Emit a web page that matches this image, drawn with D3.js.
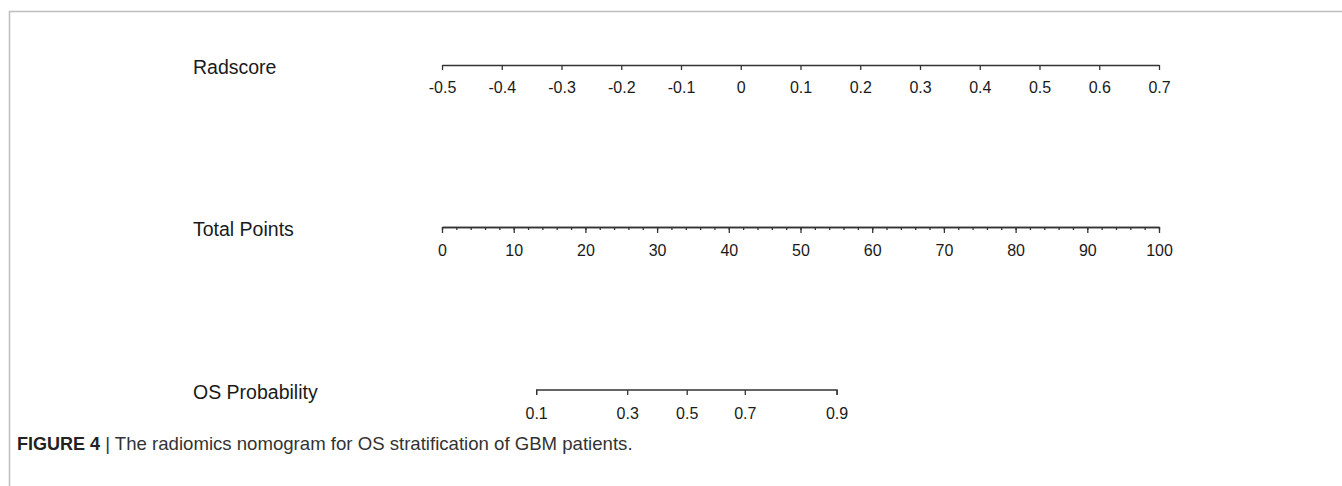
<!DOCTYPE html>
<html>
<head>
<meta charset="utf-8">
<script src="https://cdn.jsdelivr.net/npm/d3@7"></script>
<style>
  body { margin: 0; background: #fff; }
  svg { display: block; }
  .lab { font-family: "Liberation Sans", Arial, sans-serif; font-size: 19.5px; fill: #1a1a1a; }
  .tick text { font-family: "Liberation Sans", Arial, sans-serif; font-size: 16px; fill: #1a1a1a; }
</style>
</head>
<body>
<svg width="1342" height="486"></svg>
<script>
const svg = d3.select('svg')

// data
const radscoreTicks = [-0.5, -0.4, -0.3, -0.2, -0.1, 0, 0.1, 0.2, 0.3, 0.4, 0.5, 0.6, 0.7]
const pointsMajor = [0, 10, 20, 30, 40, 50, 60, 70, 80, 90, 100]
const pointsMinor = d3.range(0, 101, 2)
const osProb = [0.1, 0.3, 0.5, 0.7, 0.9]
const osTotalPoints = [13.2, 25.9, 34.2, 42.3, 55.1]   // total points at each probability
const rows = ['Radscore', 'Total Points', 'OS Probability']

const x0 = 442, x1 = 1159
const rowY = {Radscore: 65, 'Total Points': 227, 'OS Probability': 390}

// frame
svg.append('path')
  .attr('d', 'M9.5,486 V11.5 H1342')
  .attr('fill', 'none')
  .attr('stroke', '#bdbdbd')
  .attr('stroke-width', 1.5)

const radScale = d3.scaleLinear().domain([-0.5, 0.7]).range([x0, x1])
const ptsScale = d3.scaleLinear().domain([0, 100]).range([x0, x1])
const osScale = d3.scaleOrdinal().domain(osProb).range(osTotalPoints.map(ptsScale))

const styleAxis = g => {
  g.select('.domain').attr('stroke', '#333').attr('stroke-width', 1.3)
  g.selectAll('.tick line').attr('stroke', '#333').attr('stroke-width', 1.3)
}

// row labels
svg.selectAll('text.lab').data(rows).enter().append('text')
  .attr('class', 'lab')
  .attr('x', 193)
  .attr('y', d => rowY[d] + 9)
  .text(d => d)

// Radscore
svg.append('g')
  .attr('transform', `translate(0,${rowY.Radscore})`)
  .call(d3.axisBottom(radScale).tickValues(radscoreTicks).tickSize(5).tickSizeOuter(0)
    .tickFormat(d => d === 0 ? '0' : d3.format('.1f')(d).replace('−', '-')))
  .call(styleAxis)
  .call(g => g.selectAll('.tick text').attr('y', 17))

// Total points minor
svg.append('g')
  .attr('transform', `translate(0,${rowY['Total Points']})`)
  .call(d3.axisBottom(ptsScale).tickValues(pointsMinor).tickSize(3).tickSizeOuter(0).tickFormat(''))
  .call(styleAxis)

svg.append('g')
  .attr('transform', `translate(0,${rowY['Total Points']})`)
  .call(d3.axisBottom(ptsScale).tickValues(pointsMajor).tickSize(6).tickSizeOuter(0))
  .call(styleAxis)
  .call(g => g.selectAll('.tick text').attr('y', 18))

// OS probability
svg.append('g')
  .attr('transform', `translate(0,${rowY['OS Probability']})`)
  .call(g => {
    g.append('path').attr('class', 'domain')
      .attr('d', `M${osScale(osProb[0])},5V0H${osScale(osProb[osProb.length - 1])}V5`)
      .attr('fill', 'none')
    const t = g.selectAll('.tick').data(osProb).enter().append('g')
      .attr('class', 'tick')
      .attr('transform', d => `translate(${osScale(d)},0)`)
    t.append('line').attr('y2', 5)
    t.append('text').attr('y', 18).attr('dy', '0.71em').attr('text-anchor', 'middle').text(d => d3.format('.1f')(d))
  })
  .call(styleAxis)

// caption
const cap = svg.append('text')
  .attr('x', 17).attr('y', 450)
  .style('font-family', '"Liberation Sans", Arial, sans-serif')
  .style('font-size', '18px')
  .attr('fill', '#333')
cap.append('tspan').style('font-weight', 'bold').attr('fill', '#222').text('FIGURE 4')
cap.append('tspan').style('font-size', '18.6px').text(' | The radiomics nomogram for OS stratification of GBM patients.')
</script>
</body>
</html>
